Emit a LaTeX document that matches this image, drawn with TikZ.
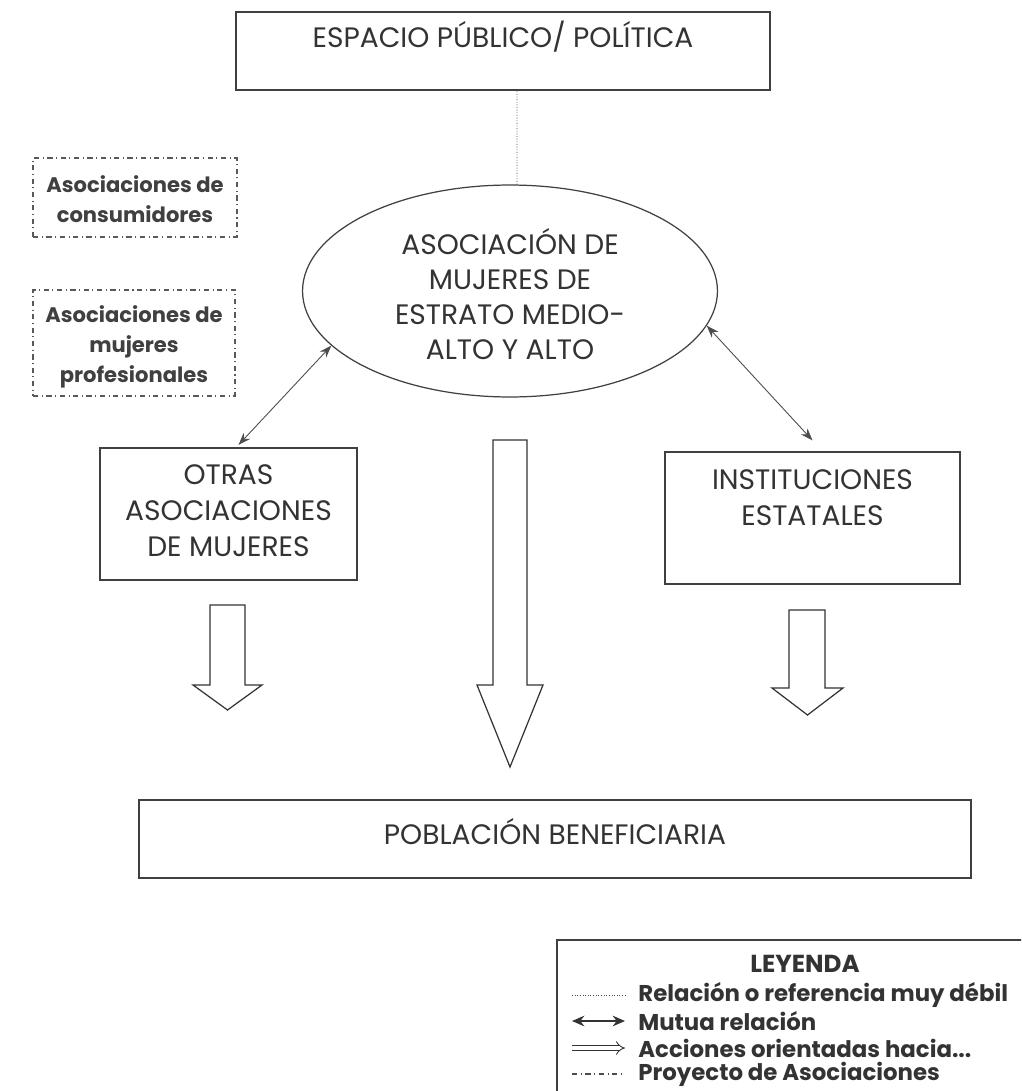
\documentclass[tikz,border=0pt]{standalone}
\usepackage{fontspec}
\setmainfont{Poppins}
\usetikzlibrary{shapes.geometric,arrows.meta}

\begin{document}
\begin{tikzpicture}[x=0.02cm,y=-0.02cm]
	 \tikzstyle{box}=[rectangle,draw=black!75,line width=0.7pt,inner sep=0pt]
	 \tikzstyle{minor box}=[rectangle,draw=black!65,line width=0.6pt,dash dot,inner sep=0pt]
	 \tikzstyle{big text}=[text=black!80,align=center,inner sep=0pt,font=\fontsize{16}{20.4}\selectfont]
	 \tikzstyle{small text}=[text=black!75,align=center,inner sep=0pt,font=\fontsize{12}{17}\selectfont\bfseries]
	 \tikzstyle{legend text}=[text=black!80,anchor=west,inner sep=0pt,font=\fontsize{13}{15}\selectfont\bfseries]
	 \tikzstyle{mutual}=[draw=black!70,line width=0.5pt,{Stealth[length=7pt,width=5pt]}-{Stealth[length=7pt,width=5pt]}]
	 \tikzstyle{weak}=[draw=black!70,line width=0.5pt,densely dotted]
	 \tikzstyle{block}=[draw=black!80,line width=0.7pt,fill=white,line join=miter]
	 \clip (0,0) rectangle (1021,1091);
	 \fill[white] (0,0) rectangle (1021,1091);
	 % cajas principales
	 \node[box, minimum width=10.68cm, minimum height=1.56cm] (espacio) at (503,51) {};
	 \node[big text] (espaciotxt) at (503,37) {ESPACIO PÚBLICO/ POLÍTICA};
	 \node[ellipse, draw=black!75, line width=0.7pt, minimum width=8.3cm, minimum height=4.24cm, inner sep=0pt] (asoc) at (510,291) {};
	 \node[big text, font=\fontsize{16}{19.8}\selectfont] (asoctxt) at (510,294)
	       {ASOCIACIÓN DE\\MUJERES DE\\ESTRATO MEDIO-\\ALTO Y ALTO};
	 \node[minor box, minimum width=4.08cm, minimum height=1.58cm] (consum) at (135,197.5) {};
	 \node[small text] (consumtxt) at (135,199) {Asociaciones de\\consumidores};
	 \node[minor box, minimum width=4.04cm, minimum height=2.12cm] (profes) at (134,343) {};
	 \node[small text] (profestxt) at (134,347) {Asociaciones de\\mujeres\\profesionales};
	 \node[box, minimum width=5.14cm, minimum height=2.64cm] (otras) at (228.5,514) {};
	 \node[big text] (otrastxt) at (228.5,511) {OTRAS\\ASOCIACIONES\\DE MUJERES};
	 \node[box, minimum width=5.9cm, minimum height=2.64cm] (inst) at (812.5,518) {};
	 \node[big text] (insttxt) at (812.5,497.5) {INSTITUCIONES\\ESTATALES};
	 \node[box, minimum width=16.64cm, minimum height=1.56cm] (pobl) at (555,839) {};
	 \node[big text] (pobltxt) at (555,832) {POBLACIÓN BENEFICIARIA};
	 % relaciones
	 \coordinate (weaktop) at (517,0);
	 \draw[weak] ([xshift=0.14cm]asoc.north) -- (weaktop |- espacio.south);
	 \draw[mutual] (asoc.197) -- ([xshift=0.2cm,yshift=0.05cm]otras.north);
	 \draw[mutual] (asoc.350) -- ([yshift=0.22cm]inst.north);
	 % acciones
	 \draw[block] (210,605) -- (245,605) -- (245,685) -- (262,685) -- (227.5,710) -- (193,685) -- (210,685) -- cycle;
	 \draw[block] (493,440) -- (527,440) -- (527,685) -- (543,685) -- (510,767) -- (477,685) -- (493,685) -- cycle;
	 \draw[block] (789,610) -- (825,610) -- (825,688) -- (843,688) -- (807.5,715) -- (772,688) -- (789,688) -- cycle;
	 % leyenda
	 \draw[box] (557,940) rectangle (1040,1110);
	 \node[legend text, anchor=center, font=\fontsize{14}{16}\selectfont\bfseries] (leyenda) at (805,964) {LEYENDA};
	 \coordinate (l1a) at (572,995); \coordinate (l1b) at (625,995);
	 \coordinate (l2a) at (572,1021); \coordinate (l2b) at (625,1021);
	 \coordinate (l3a) at (572,1048); \coordinate (l3b) at (625,1048);
	 \coordinate (l4a) at (572,1074); \coordinate (l4b) at (625,1074);
	 \draw[weak] (l1a) -- (l1b);
	 \draw[black!80,line width=1.4pt,{Stealth[length=7pt,width=6pt]}-{Stealth[length=7pt,width=6pt]}] (l2a) -- (l2b);
	 \draw[black!80,double,double distance=2.2pt,line width=0.5pt,-{Implies}] (l3a) -- (l3b);
	 \draw[black!70,line width=0.6pt,dash dot] (l4a) -- (l4b);
	 \node[legend text] (ley1) at (638,995) {Relación o referencia muy débil};
	 \node[legend text] (ley2) at (638,1021) {Mutua relación};
	 \node[legend text] (ley3) at (638,1048) {Acciones orientadas hacia...};
	 \node[legend text] (ley4) at (638,1074) {Proyecto de Asociaciones};
\end{tikzpicture}
\end{document}
